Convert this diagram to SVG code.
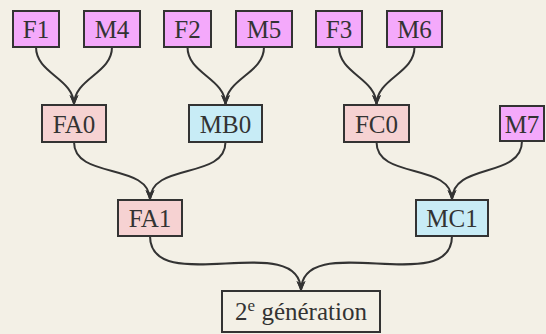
<svg xmlns="http://www.w3.org/2000/svg" width="546" height="334" viewBox="0 0 546 334">
<defs>
<marker id="arr" markerUnits="userSpaceOnUse" viewBox="0 0 11 10" markerWidth="11" markerHeight="10" refX="10" refY="5" orient="auto">
<path d="M10.5,5 L0,0.5 L3,5 L0,9.5 Z" fill="#333"/>
</marker>
</defs>
<rect width="546" height="334" fill="#f3f0e6"/>
<g id="connectors" fill="none" stroke="#333" stroke-width="2" marker-end="url(#arr)">
<path d="M36,47 C36,74 74,78 74,105"/>
<path d="M112,47 C112,74 74,78 74,105"/>
<path d="M187.5,47 C187.5,74 225.5,78 225.5,105"/>
<path d="M264,47 C264,74 225.5,78 225.5,105"/>
<path d="M339,47 C339,74 376.5,78 376.5,105"/>
<path d="M414.5,47 C414.5,74 376.5,78 376.5,105"/>
<path d="M74,142 C74,180 150,162 150,200"/>
<path d="M225.5,142 C225.5,180 150,162 150,200"/>
<path d="M376.5,142 C376.5,180 452,162 452,200"/>
<path d="M522,141 C522,179 452,162 452,200"/>
<path d="M150,236 C150,299 301,228 301,291"/>
<path d="M452,236 C452,299 301,228 301,291"/>
</g>
<g id="F1"><rect x="13" y="11" width="46" height="36" fill="#f4a9fb" stroke="#333" stroke-width="2"/><text x="36" y="38" font-size="25" fill="#333" text-anchor="middle" font-family="Liberation Serif" style="font-family:'Liberation Serif'">F1</text></g>
<g id="M4"><rect x="84" y="11" width="56" height="36" fill="#f4a9fb" stroke="#333" stroke-width="2"/><text x="112" y="38" font-size="25" fill="#333" text-anchor="middle" font-family="Liberation Serif" style="font-family:'Liberation Serif'">M4</text></g>
<g id="F2"><rect x="164" y="11" width="47" height="36" fill="#f4a9fb" stroke="#333" stroke-width="2"/><text x="187.5" y="38" font-size="25" fill="#333" text-anchor="middle" font-family="Liberation Serif" style="font-family:'Liberation Serif'">F2</text></g>
<g id="M5"><rect x="236" y="11" width="56" height="36" fill="#f4a9fb" stroke="#333" stroke-width="2"/><text x="264" y="38" font-size="25" fill="#333" text-anchor="middle" font-family="Liberation Serif" style="font-family:'Liberation Serif'">M5</text></g>
<g id="F3"><rect x="316" y="11" width="46" height="36" fill="#f4a9fb" stroke="#333" stroke-width="2"/><text x="339" y="38" font-size="25" fill="#333" text-anchor="middle" font-family="Liberation Serif" style="font-family:'Liberation Serif'">F3</text></g>
<g id="M6"><rect x="387" y="11" width="55" height="36" fill="#f4a9fb" stroke="#333" stroke-width="2"/><text x="414.5" y="38" font-size="25" fill="#333" text-anchor="middle" font-family="Liberation Serif" style="font-family:'Liberation Serif'">M6</text></g>
<g id="FA0"><rect x="42" y="105" width="64" height="37" fill="#f6d2d2" stroke="#333" stroke-width="2"/><text x="74" y="133" font-size="25" fill="#333" text-anchor="middle" font-family="Liberation Serif" style="font-family:'Liberation Serif'">FA0</text></g>
<g id="MB0"><rect x="189" y="105" width="73" height="37" fill="#c8ecf6" stroke="#333" stroke-width="2"/><text x="225.5" y="133" font-size="25" fill="#333" text-anchor="middle" font-family="Liberation Serif" style="font-family:'Liberation Serif'">MB0</text></g>
<g id="FC0"><rect x="344" y="105" width="65" height="37" fill="#f6d2d2" stroke="#333" stroke-width="2"/><text x="376.5" y="133" font-size="25" fill="#333" text-anchor="middle" font-family="Liberation Serif" style="font-family:'Liberation Serif'">FC0</text></g>
<g id="M7"><rect x="500" y="106" width="44" height="35" fill="#f4a9fb" stroke="#333" stroke-width="2"/><text x="522" y="133" font-size="25" fill="#333" text-anchor="middle" font-family="Liberation Serif" style="font-family:'Liberation Serif'">M7</text></g>
<g id="FA1"><rect x="118" y="200" width="64" height="36" fill="#f6d2d2" stroke="#333" stroke-width="2"/><text x="150" y="227" font-size="25" fill="#333" text-anchor="middle" font-family="Liberation Serif" style="font-family:'Liberation Serif'">FA1</text></g>
<g id="MC1"><rect x="416" y="200" width="72" height="36" fill="#c8ecf6" stroke="#333" stroke-width="2"/><text x="452" y="227" font-size="25" fill="#333" text-anchor="middle" font-family="Liberation Serif" style="font-family:'Liberation Serif'">MC1</text></g>
<g id="gen2"><rect x="222" y="291" width="158" height="41" fill="#f3f0e6" stroke="#333" stroke-width="2"/><text x="301" y="320" font-size="25" fill="#333" text-anchor="middle" font-family="Liberation Serif" style="font-family:'Liberation Serif'">2<tspan font-size="17" dy="-9">e</tspan><tspan dy="9"> génération</tspan></text></g>
</svg>
